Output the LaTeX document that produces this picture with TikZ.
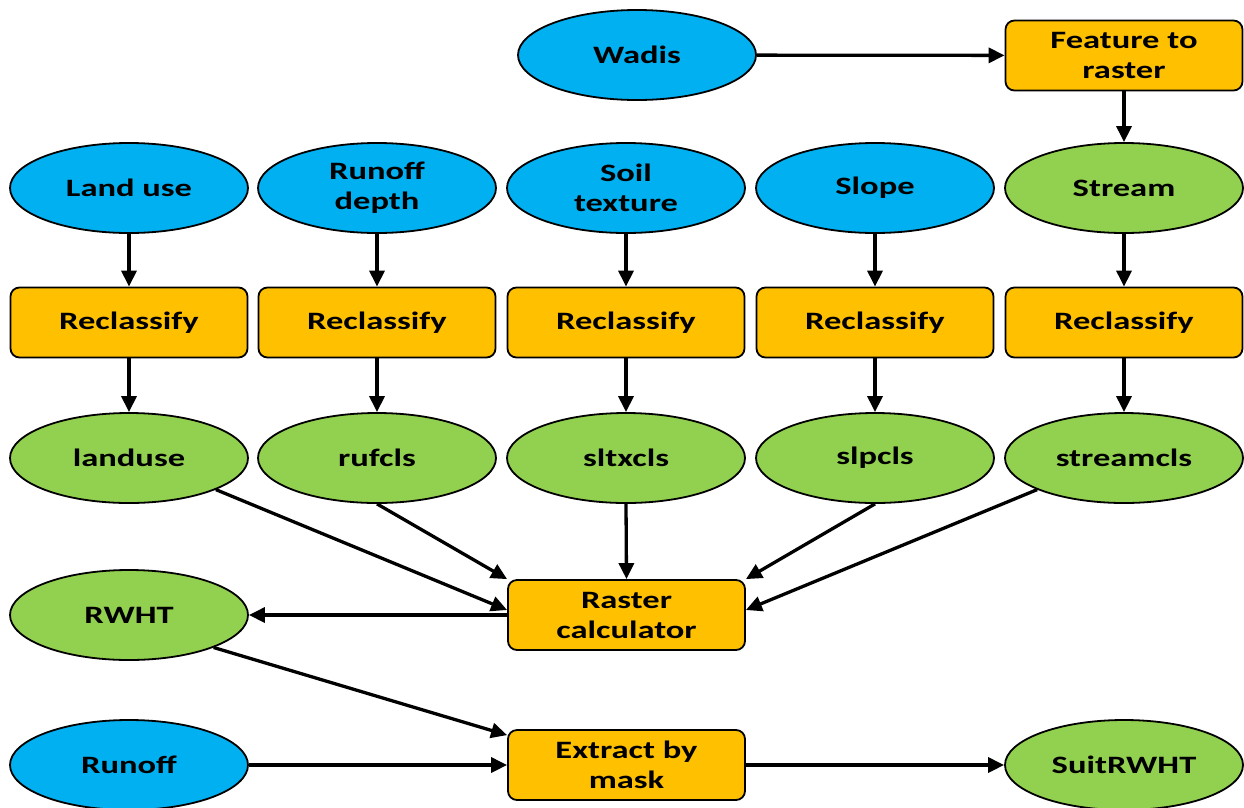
\documentclass[tikz,border=0pt]{standalone}
\usepackage{fontspec}
\usetikzlibrary{arrows.meta,shapes.geometric}
\newfontfamily\lblfont{Carlito}[FakeStretch=1.38]
\definecolor{inblue}{HTML}{00B0F0}
\definecolor{outgreen}{HTML}{92D050}
\definecolor{toolorange}{HTML}{FFC000}
\tikzset{
  base/.style={draw=black, line width=1.8pt, align=center, inner sep=0pt,
    font=\lblfont\bfseries\fontsize{25}{30}\selectfont},
  inell/.style={base, ellipse, fill=inblue, minimum width=238pt, minimum height=90pt},
  outell/.style={base, ellipse, fill=outgreen, minimum width=238pt, minimum height=90pt},
  toolbox/.style={base, rectangle, rounded corners=9pt, fill=toolorange, minimum width=237pt, minimum height=70pt},
  conn/.style={line width=3.3pt, -{Triangle[length=16pt,width=15pt]}}
}
\begin{document}
\begin{tikzpicture}[x=1pt,y=-1pt]
\useasboundingbox (0,0) rectangle (1244,807);
% top
\node[inell] (wadis) at (637,55) {Wadis};
\node[toolbox] (f2r) at (1124,55.5) {Feature to\\raster};
% row 2
\node[inell] (landuse) at (129,188) {Land use};
\node[inell] (runoffdepth) at (377,188) {Runoff\\depth};
\node[inell] (soil) at (626,188) {Soil\\texture};
\node[inell] (slope) at (875,188) {Slope};
\node[outell] (stream) at (1124,188) {Stream};
% row 3
\node[toolbox] (rc1) at (129,322.5) {Reclassify};
\node[toolbox] (rc2) at (377,322.5) {Reclassify};
\node[toolbox] (rc3) at (626,322.5) {Reclassify};
\node[toolbox] (rc4) at (875,322.5) {Reclassify};
\node[toolbox] (rc5) at (1124,322.5) {Reclassify};
% row 4
\node[outell] (lu) at (129,458) {landuse};
\node[outell] (ruf) at (377,458) {rufcls};
\node[outell] (sltx) at (626,458) {sltxcls};
\node[outell] (slp) at (875,458) {slpcls};
\node[outell] (strc) at (1124,458) {streamcls};
% row 5
\node[toolbox] (calc) at (626.5,615) {Raster\\calculator};
\node[outell] (rwht) at (129,615) {RWHT};
% row 6
\node[inell] (runoff) at (129,765) {Runoff};
\node[toolbox] (extract) at (626.5,765) {Extract by\\mask};
\node[outell] (suit) at (1124,765) {SuitRWHT};
% connectors
\draw[conn] (wadis) -- (f2r);
\draw[conn] (f2r) -- (stream);
\foreach \a/\b/\c in {landuse/rc1/lu, runoffdepth/rc2/ruf, soil/rc3/sltx, slope/rc4/slp, stream/rc5/strc}{
  \draw[conn] (\a) -- (\b);
  \draw[conn] (\b) -- (\c);
}
\draw[conn] (lu.-20) -- ([yshift=5pt]calc.west);
\draw[conn] (ruf.south) -- (calc.north west);
\draw[conn] (sltx.south) -- (calc.north);
\draw[conn] (slp.south) -- (calc.north east);
\draw[conn] (strc.200) -- ([yshift=5pt]calc.east);
\draw[conn] (calc) -- (rwht);
\draw[conn] (rwht.-21) -- ([yshift=-6pt]extract.north west);
\draw[conn] (runoff) -- (extract);
\draw[conn] (extract) -- (suit);
\end{tikzpicture}
\end{document}
